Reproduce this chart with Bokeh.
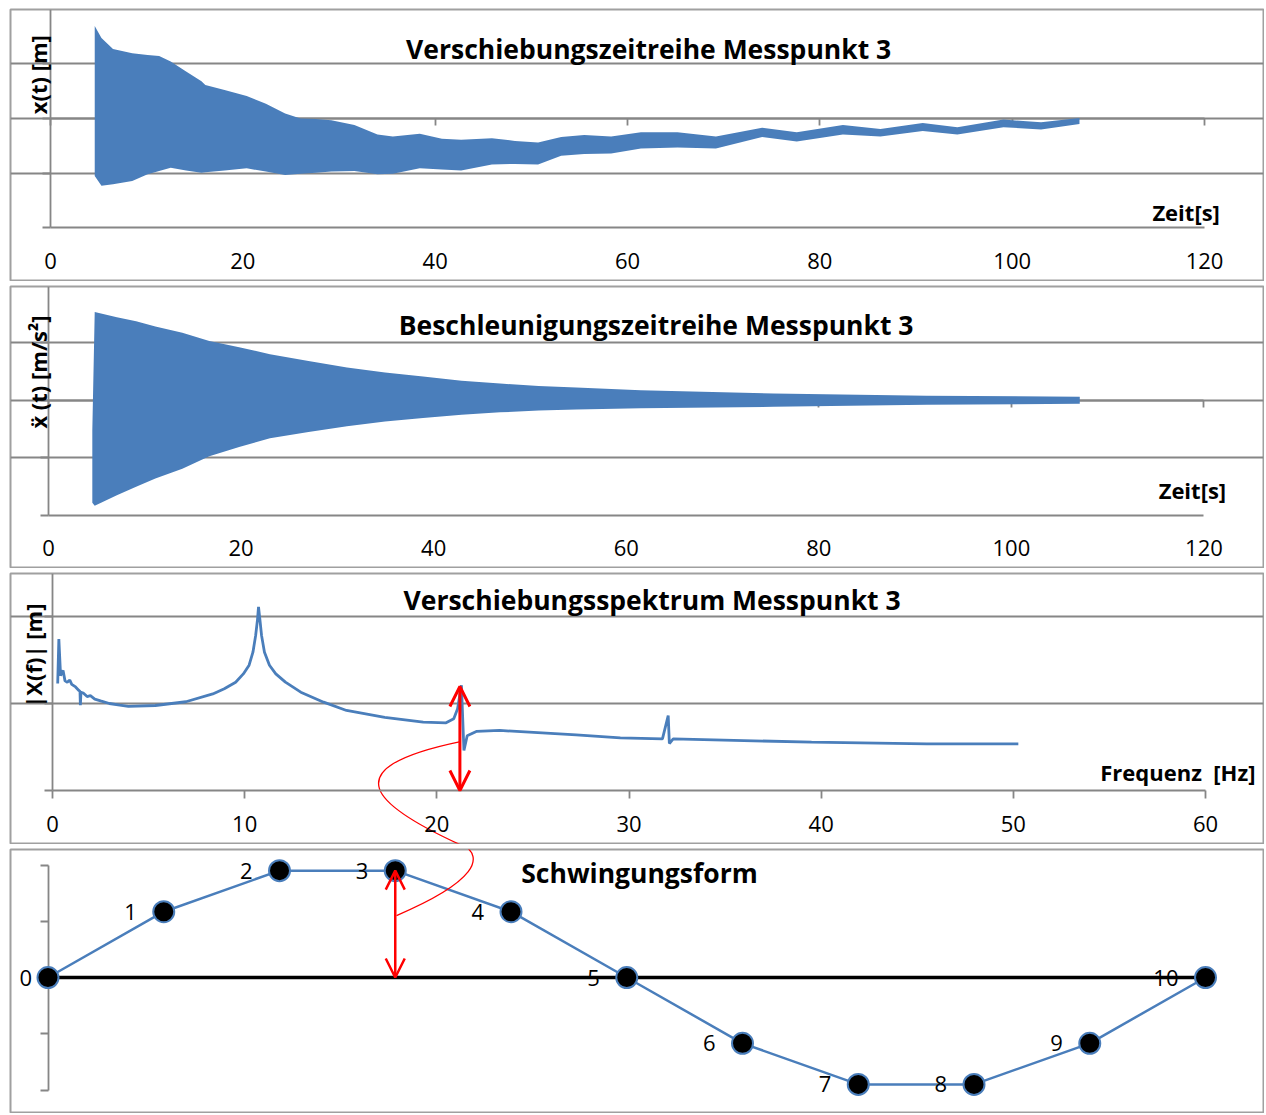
from math import pi
from bokeh.plotting import figure
from bokeh.layouts import column
from bokeh.models import (Range1d, LinearAxis, FixedTicker, Grid, Label, Arrow, OpenHead)
from bokeh.embed import file_html
from bokeh.resources import INLINE
from bokeh.core.properties import value

BLUE = "#4A7EBB"
GRAY = "#868686"
FONT = "Open Sans"

# ---------------- data ----------------
time_ticks = [0, 20, 40, 60, 80, 100, 120]
freq_ticks = [0, 10, 20, 30, 40, 50, 60]
value_ticks = [-2, -1, 0, 1, 2]
spec_ticks = [0, 1, 2]

# displacement time series (envelope of the dense oscillation)
disp_time = [4.6, 5.3, 6.5, 8.5, 10.1, 11.3, 12.5, 14.1, 15.7, 16.1, 18.1, 20.4, 22.4, 24.4, 26.0,
             27.6, 29.2, 31.6, 34.0, 35.6, 38.4, 40.7, 42.7, 45.9, 48.3, 50.7, 53.1, 55.5, 58.3,
             61.4, 65.2, 69.2, 74.0, 77.6, 82.4, 86.3, 90.7, 94.3, 99.1, 103.0, 107.0]
disp_upper = [1.69, 1.47, 1.27, 1.19, 1.16, 1.14, 1.04, 0.86, 0.68, 0.61, 0.52, 0.41, 0.27, 0.09, 0.0,
              -0.01, -0.03, -0.12, -0.29, -0.33, -0.28, -0.37, -0.39, -0.36, -0.41, -0.44, -0.34, -0.30, -0.33,
              -0.25, -0.25, -0.33, -0.17, -0.25, -0.12, -0.19, -0.08, -0.16, -0.02, -0.07, 0.01]
disp_lower = [-1.05, -1.23, -1.20, -1.14, -1.02, -0.96, -0.90, -0.95, -0.99, -0.98, -0.95, -0.91, -0.97, -1.03, -1.01,
              -0.99, -0.97, -0.96, -1.02, -1.01, -0.91, -0.93, -0.95, -0.84, -0.83, -0.84, -0.68, -0.65, -0.64,
              -0.55, -0.53, -0.55, -0.34, -0.42, -0.29, -0.33, -0.23, -0.29, -0.16, -0.20, -0.10]

# acceleration time series (envelope)
acc_time = [4.55, 4.8, 7.1, 9.1, 11.1, 13.9, 16.7, 19.8, 23.0, 27.0, 31.0, 34.95, 38.9, 42.9, 46.9,
            50.9, 54.8, 61.5, 75.3, 91.2, 107.1]
acc_upper = [-0.52, 1.53, 1.44, 1.37, 1.28, 1.17, 1.03, 0.92, 0.80, 0.68, 0.57, 0.48, 0.41, 0.34, 0.29,
             0.245, 0.22, 0.175, 0.115, 0.08, 0.06]
acc_lower = [-1.78, -1.83, -1.65, -1.50, -1.36, -1.19, -0.97, -0.81, -0.66, -0.55, -0.45, -0.37, -0.31, -0.25, -0.21,
             -0.18, -0.16, -0.14, -0.115, -0.08, -0.06]

# displacement spectrum
spec_freq = [0.27, 0.33, 0.42, 0.55, 0.65, 0.77, 0.9, 1.0, 1.2, 1.37, 1.43, 1.45, 1.48, 1.6, 1.8,
             1.97, 2.2, 2.5, 2.96, 3.5, 3.95, 5.35, 6.94, 8.34, 8.94, 9.53, 9.93, 10.23, 10.43, 10.57,
             10.67, 10.72, 10.79, 10.88, 11.03, 11.29, 11.62, 12.12, 12.92, 14.11, 15.3, 17.29, 19.29,
             20.48, 20.88, 21.08, 21.22, 21.28, 21.41, 21.58, 22.08, 23.27, 27.25, 29.55,
             31.74, 32.04, 32.1, 32.3, 39.5, 45.5, 50.26]
spec_amp = [1.23, 1.74, 1.32, 1.38, 1.26, 1.245, 1.27, 1.22, 1.19, 1.15, 1.14, 0.98, 1.13, 1.12, 1.08,
            1.09, 1.05, 1.03, 1.0, 0.98, 0.966, 0.977, 1.02, 1.11, 1.17, 1.245, 1.34, 1.44, 1.59, 1.78,
            1.97, 2.11, 1.97, 1.78, 1.59, 1.44, 1.34, 1.245, 1.13, 1.015, 0.92, 0.84, 0.785,
            0.778, 0.824, 0.94, 1.13, 1.21, 0.46, 0.63, 0.68, 0.69, 0.64, 0.605,
            0.594, 0.862, 0.54, 0.594, 0.555, 0.537, 0.537]

# mode shape
mode_node = [0, 1, 2, 3, 4, 5, 6, 7, 8, 9, 10]
mode_amp = [0, 1.17, 1.9, 1.9, 1.17, 0, -1.17, -1.9, -1.9, -1.17, 0]
mode_labels = [str(n) for n in mode_node]

# red annotation: peak amplitude arrow and connector curve
peak_freq = 21.2
peak_height = 1.195
mode_arrow_node = 3
link_upper = dict(x0=[21.23], y0=[0.563], cx0=[14.47], cy0=[0.253], cx1=[16.65], cy1=[-0.172], x1=[21.54], y1=[-0.655])
link_lower = dict(x0=[3.598], y0=[2.347], cx0=[3.754], cy0=[2.133], cx1=[3.719], cy1=[1.724], x1=[3.011], y1=[1.102])


# ---------------- helpers ----------------
def make_fig(height, xr, yr, top=1):
    p = figure(width=1264, height=height, x_range=Range1d(*xr), y_range=Range1d(*yr),
               x_axis_location=None, y_axis_location=None, toolbar_location=None,
               output_backend="svg", min_border_left=10, min_border_right=1,
               min_border_top=top, min_border_bottom=1)
    p.center = [r for r in p.center if not isinstance(r, Grid)]
    p.outline_line_color = "#a0a0a0"
    p.outline_line_width = 2
    p.background_fill_color = "white"
    p.border_fill_color = "white"
    return p


def tick_axis(p, side, loc, bounds, ticks, tick_out=8, color=GRAY, width=1.8):
    # axis line with unlabeled tick marks (drawn below the data)
    ax = LinearAxis(fixed_location=loc, bounds=bounds,
                    ticker=FixedTicker(ticks=[], minor_ticks=ticks),
                    major_tick_out=0, major_tick_in=0, minor_tick_out=tick_out, minor_tick_in=0,
                    axis_line_color=color, axis_line_width=width,
                    minor_tick_line_color=color, minor_tick_line_width=width, level="underlay")
    p.add_layout(ax, side)
    return ax


def label_axis(p, loc, bounds, ticks, standoff, tick_out=0):
    ax = LinearAxis(fixed_location=loc, bounds=bounds,
                    ticker=FixedTicker(ticks=ticks, minor_ticks=[]),
                    major_tick_out=tick_out, major_tick_in=0, minor_tick_out=0, minor_tick_in=0,
                    axis_line_color=GRAY, axis_line_width=1.8,
                    major_tick_line_color=GRAY, major_tick_line_width=1.8,
                    major_label_text_font=FONT, major_label_text_font_size="22px",
                    major_label_text_color="black", major_label_standoff=standoff)
    p.add_layout(ax, "below")
    return ax


def add_grid(p, ticks, bounds):
    g = Grid(dimension=1, ticker=FixedTicker(ticks=ticks, minor_ticks=[]), bounds=bounds,
             grid_line_color=GRAY, grid_line_width=1.8)
    p.add_layout(g)


def add_label(p, x, y, text, size, bold=True, align="center", angle=0.0):
    p.add_layout(Label(x=x, y=y, text=text, text_font=FONT, text_font_size=size,
                       text_font_style="bold" if bold else "normal", text_align=align,
                       text_baseline="middle", angle=angle, text_color="black"))


TITLE = "26.5px"

# ---------------- panel 1: displacement ----------------
p1 = make_fig(281, (-4.159, 126.135), (-2.959, 1.991), top=9)
add_grid(p1, [-1, 0, 1], (0, 120))
tick_axis(p1, "left", 0, (-2, 2), value_ticks)
tick_axis(p1, "below", 0, (0, 120), time_ticks, tick_out=7)
label_axis(p1, -2, (0, 120), time_ticks, standoff=25)
p1.varea(x=disp_time, y1=disp_lower, y2=disp_upper, fill_color=BLUE)
add_label(p1, 62.2, 1.27, "Verschiebungszeitreihe Messpunkt 3", TITLE)
add_label(p1, -1.30, 0.80, "x(t) [m]", "22px", angle=pi / 2)
add_label(p1, 121.6, -1.70, "Zeit[s]", "22px", align="right")

# ---------------- panel 2: acceleration ----------------
p2 = make_fig(283, (-3.946, 126.18), (-2.903, 1.974))
add_grid(p2, [-1, 0, 1], (0, 120))
tick_axis(p2, "left", 0, (-2, 2), value_ticks)
tick_axis(p2, "below", 0, (0, 120), time_ticks, tick_out=7)
label_axis(p2, -2, (0, 120), time_ticks, standoff=25)
p2.varea(x=acc_time, y1=acc_lower, y2=acc_upper, fill_color=BLUE)
add_label(p2, 63.1, 1.30, "Beschleunigungszeitreihe Messpunkt 3", TITLE)
add_label(p2, -1.09, 0.49, "ẍ (t) [m/s²]", "22px", angle=pi / 2)
add_label(p2, 122.3, -1.56, "Zeit[s]", "22px", align="right")

# ---------------- panel 3: spectrum ----------------
p3 = make_fig(272, (-2.186, 63.018), (-0.609, 2.494))
add_grid(p3, [1, 2], (0, 60))
tick_axis(p3, "left", 0, (0, 2.5), spec_ticks)
label_axis(p3, 0, (0, 60), freq_ticks, standoff=17, tick_out=8)
p3.line(spec_freq, spec_amp, line_color=BLUE, line_width=2.8)
p3.bezier(line_color="red", line_width=1.3, **link_upper)
p3.add_layout(Arrow(x_start=peak_freq, y_start=0, x_end=peak_freq, y_end=peak_height,
                    line_color="red", line_width=3,
                    start=OpenHead(size=20, line_color="red", line_width=3),
                    end=OpenHead(size=20, line_color="red", line_width=3)))
add_label(p3, 31.2, 2.19, "Verschiebungsspektrum Messpunkt 3", TITLE)
add_label(p3, -0.99, 1.55, "|X(f)| [m]", "22px", angle=pi / 2)
add_label(p3, 62.6, 0.207, "Frequenz\u00a0 [Hz]", "22px", align="right")

# ---------------- panel 4: mode shape ----------------
p4 = make_fig(265, (-0.324, 10.501), (-2.4, 2.276))
tick_axis(p4, "left", 0, (-2, 2), value_ticks)
tick_axis(p4, "below", 0, (0, 10), [], tick_out=0, color="black", width=3.5)
p4.line(mode_node, mode_amp, line_color=BLUE, line_width=2.5)
p4.scatter(mode_node, mode_amp, size=21, marker="circle", fill_color="black",
           line_color=BLUE, line_width=2)
label_offsets = [-16 if n == 0 else -27 for n in mode_node]
p4.text(x=mode_node, y=mode_amp, text=mode_labels, x_offset=label_offsets,
        text_font=value(FONT), text_font_size=value("22px"), text_align="right",
        text_baseline="middle", text_color="black")
p4.bezier(line_color="red", line_width=1.3, **link_lower)
p4.add_layout(Arrow(x_start=mode_arrow_node, y_start=0, x_end=mode_arrow_node,
                    y_end=mode_amp[mode_arrow_node], line_color="red", line_width=2.5,
                    start=OpenHead(size=19, line_color="red", line_width=2.5),
                    end=OpenHead(size=19, line_color="red", line_width=2.5)))
add_label(p4, 5.11, 1.85, "Schwingungsform", TITLE)

layout = column(p1, p2, p3, p4, spacing=4)
open("out.html", "w").write(file_html(layout, INLINE))
